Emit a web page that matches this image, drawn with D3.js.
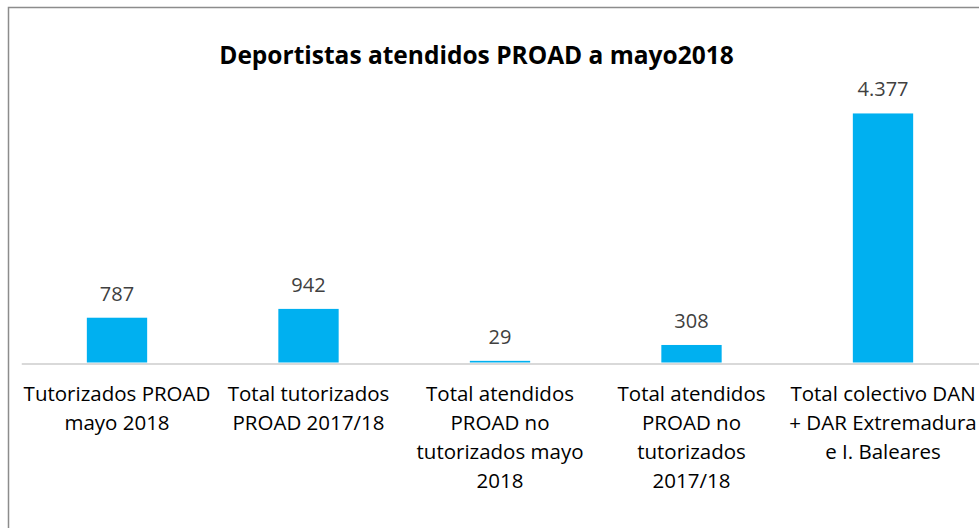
<!DOCTYPE html>
<html>
<head>
<meta charset="utf-8">
<script src="https://cdn.jsdelivr.net/npm/d3@7"></script>
<style>
  body { margin: 0; background: #fff; }
  text { font-family: "Open Sans", sans-serif; }
</style>
</head>
<body>
<div id="my_dataviz"></div>
<script>
// data
const categories = [
  "Tutorizados PROAD\nmayo 2018",
  "Total tutorizados\nPROAD 2017/18",
  "Total atendidos\nPROAD no\ntutorizados mayo\n2018",
  "Total atendidos\nPROAD no\ntutorizados\n2017/18",
  "Total colectivo DAN\n+ DAR Extremadura\ne I. Baleares"
];
const values = [787, 942, 29, 308, 4377];
const valueLabels = ["787", "942", "29", "308", "4.377"];
const title = "Deportistas atendidos PROAD a mayo2018";

const width = 979, height = 528;

const svg = d3.select("#my_dataviz")
  .append("svg")
  .attr("width", width)
  .attr("height", height);

// chart frame (cut off on the right and bottom like the reference)
svg.append("rect")
  .attr("x", 8.5)
  .attr("y", 7.5)
  .attr("width", 1000)
  .attr("height", 560)
  .attr("fill", "#fff")
  .attr("stroke", "#8c8c8c")
  .attr("stroke-width", 1.5);

const x = d3.scaleBand()
  .domain(d3.range(categories.length))
  .range([21.25, 978.75])
  .paddingInner(0.685)
  .paddingOuter(0.685 / 2);

const y = d3.scaleLinear()
  .domain([0, 5000])
  .range([362.5, 78]);

svg.append("text")
  .attr("x", 476.5)
  .attr("y", 64)
  .attr("text-anchor", "middle")
  .style("font-size", "24.5px")
  .style("font-weight", "bold")
  .attr("fill", "#000")
  .text(title);

// bars
svg.selectAll("rect.bar")
  .data(values)
  .join("rect")
  .attr("class", "bar")
  .attr("x", (d, i) => x(i))
  .attr("y", d => y(d))
  .attr("width", x.bandwidth())
  .attr("height", d => y(0) - y(d))
  .attr("fill", "#00b0f0");

// axis
const xAxis = svg.append("g")
  .attr("transform", `translate(0, ${y(0) + 1})`)
  .call(d3.axisBottom(x).tickSize(0).tickSizeOuter(0).tickFormat(""));

xAxis.select(".domain")
  .attr("stroke", "#d9d9d9")
  .attr("stroke-width", 2);

xAxis.selectAll(".tick text").remove();

xAxis.selectAll(".tick")
  .append("text")
  .attr("text-anchor", "middle")
  .attr("fill", "#000")
  .style("font-size", "20.5px")
  .each(function(d) {
    const lines = categories[d].split("\n");
    d3.select(this).selectAll("tspan")
      .data(lines)
      .join("tspan")
      .attr("x", 0)
      .attr("y", (l, k) => 37 + k * 29)
      .text(l => l);
  });

// value labels
svg.selectAll("text.val")
  .data(values)
  .join("text")
  .attr("class", "val")
  .attr("x", (d, i) => x(i) + x.bandwidth() / 2)
  .attr("y", d => y(d) - 17)
  .attr("text-anchor", "middle")
  .attr("fill", "#404040")
  .style("font-size", "20px")
  .text((d, i) => valueLabels[i]);
</script>
</body>
</html>
